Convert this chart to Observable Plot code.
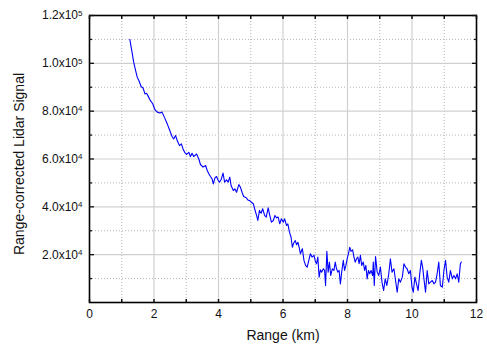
<!DOCTYPE html>
<html>
<head>
<meta charset="utf-8">
<script src="https://cdn.jsdelivr.net/npm/d3@7"></script>
<script src="https://cdn.jsdelivr.net/npm/@observablehq/plot@0.6"></script>
<style>
  html, body { margin: 0; padding: 0; background: #fff; }
  #chart svg { display: block; font-family: "Liberation Sans", Arial, sans-serif; }
</style>
</head>
<body>
<div id="chart"></div>
<script>
// Range (km)
const rangeKm = [
  1.25,1.32,1.37,1.43,1.48,1.53,1.60,1.66,1.72,1.77,1.81,1.89,1.96,2.03,2.10,2.18,2.25,2.33,2.41,2.49,
  2.56,2.61,2.67,2.72,2.79,2.85,2.90,2.95,3.01,3.08,3.13,3.18,3.23,3.32,3.39,3.44,3.52,3.60,3.65,3.70,
  3.75,3.80,3.84,3.89,3.94,3.98,4.03,4.08,4.14,4.19,4.25,4.30,4.35,4.39,4.46,4.51,4.56,4.63,4.68,4.73,
  4.78,4.86,4.91,4.97,5.02,5.08,5.12,5.18,5.22,5.27,5.32,5.37,5.43,5.48,5.54,5.59,5.64,5.70,5.75,5.80,
  5.85,5.90,5.95,6.01,6.05,6.11,6.15,6.20,6.25,6.29,6.33,6.38,6.42,6.46,6.50,6.54,6.60,6.65,6.70,6.75,
  6.80,6.85,6.90,6.96,7.01,7.04,7.08,7.12,7.16,7.20,7.25,7.29,7.32,7.36,7.40,7.44,7.48,7.53,7.58,7.62,
  7.66,7.70,7.74,7.78,7.82,7.87,7.91,7.95,7.99,8.03,8.07,8.11,8.16,8.20,8.24,8.28,8.32,8.36,8.40,8.44,
  8.49,8.53,8.57,8.61,8.65,8.69,8.73,8.78,8.80,8.83,8.87,8.92,8.97,9.02,9.07,9.12,9.17,9.22,9.28,9.33,
  9.38,9.44,9.49,9.54,9.59,9.64,9.70,9.75,9.80,9.85,9.90,9.95,10.00,10.04,10.09,10.14,10.19,10.24,10.29,10.33,
  10.37,10.42,10.47,10.52,10.57,10.63,10.68,10.73,10.78,10.83,10.88,10.94,10.99,11.04,11.09,11.14,11.19,11.25,11.30,11.35,
  11.40,11.45,11.50,11.53
];
// Range-corrected lidar signal
const signal = [
  110000,104600,100500,97000,94200,92800,90300,89700,87200,87500,86500,84400,83100,80600,79600,79200,79600,77200,74700,71900,
  69400,68400,69800,67700,65600,66300,64200,62800,61900,62800,61000,62400,61000,62100,60000,57700,56600,57300,55200,53800,
  52700,51700,49600,52100,52700,51300,50300,51300,54100,50300,51300,50300,52400,48900,46800,47500,46100,49300,48200,46100,
  44300,43800,42900,42600,41900,41300,39200,36400,34300,38500,37300,39200,36400,35700,39600,36400,33600,34300,36400,35400,
  35700,32900,35000,33600,35000,32200,32900,29400,27300,23100,24800,25900,24200,25200,23100,20400,22500,17600,15500,14800,
  17600,20400,19000,19700,16900,16200,19000,10600,13700,12700,14100,13400,7100,21400,12700,16900,11300,14100,13400,16900,
  14100,12700,13400,7800,12700,17600,13400,15500,18300,20400,23100,21400,22000,19000,16900,18300,19000,16200,19700,15500,
  16900,13400,15500,9900,13400,12000,13400,11300,16900,7100,19200,12700,11300,14800,8500,5000,9900,7100,12000,18300,
  12700,14100,9200,4300,9900,8500,10600,16200,14800,14100,12000,13400,6400,4300,10600,7800,5000,12000,17600,14800,
  9900,4300,13400,7800,8500,9200,7800,8500,12000,16900,7100,6400,13400,17600,10600,8500,13400,9900,11300,9900,
  12000,8500,16200,16900
];
const xMajor = [0, 2, 4, 6, 8, 10, 12];
const xMinor = [1, 3, 5, 7, 9, 11];
const yMajor = [20000, 40000, 60000, 80000, 100000, 120000];
const yMinor = [10000, 30000, 50000, 70000, 90000, 110000];
const xTitle = "Range (km)";
const yTitle = "Range-corrected Lidar Signal";

const data = rangeKm.map((r, i) => ({range: r, value: signal[i]}));

function sciLabel(v) {
  const e = Math.floor(Math.log10(v));
  const c = v / Math.pow(10, e);
  return c.toFixed(1) + "x10^" + e;
}

const blank = () => "";
const chart = Plot.plot({
  width: 487,
  height: 347,
  marginLeft: 89,
  marginRight: 11,
  marginTop: 15,
  marginBottom: 45,
  style: {fontFamily: "Liberation Sans, Arial, sans-serif", fontSize: "12px", color: "#111"},
  x: {domain: [0, 12], label: null},
  y: {domain: [0, 120000], label: null},
  marks: [
    Plot.gridX(xMinor, {stroke: "#b5b5b5", strokeOpacity: 1, strokeDasharray: "1,2"}),
    Plot.gridY(yMinor, {stroke: "#b5b5b5", strokeOpacity: 1, strokeDasharray: "1,2"}),
    Plot.gridX(xMajor.slice(1, -1), {stroke: "#d0d0d0", strokeOpacity: 1, strokeWidth: 1.2}),
    Plot.gridY(yMajor.slice(0, -1), {stroke: "#d0d0d0", strokeOpacity: 1, strokeWidth: 1.2}),
    Plot.line(data, {x: "range", y: "value", stroke: "#0000ff", strokeWidth: 1.1}),
    Plot.frame({stroke: "#000", strokeWidth: 1.6}),
    // inward ticks
    Plot.axisX(xMajor.concat(xMinor), {anchor: "bottom", tickSize: -3, tickFormat: blank, strokeWidth: 1.5, label: null}),
    Plot.axisX(xMajor.concat(xMinor), {anchor: "top", tickSize: -3, tickFormat: blank, strokeWidth: 1.5, label: null}),
    Plot.axisY(yMajor, {anchor: "left", tickSize: -5, tickFormat: blank, strokeWidth: 1.3, label: null}),
    Plot.axisY(yMinor, {anchor: "left", tickSize: -3, tickFormat: blank, strokeWidth: 1.3, label: null}),
    Plot.axisY(yMajor, {anchor: "right", tickSize: -5, tickFormat: blank, strokeWidth: 1.3, label: null}),
    Plot.axisY(yMinor, {anchor: "right", tickSize: -3, tickFormat: blank, strokeWidth: 1.3, label: null}),
    // labels
    Plot.axisX(xMajor, {anchor: "bottom", tickSize: 0, tickPadding: 7, fontSize: 12, label: null}),
    Plot.axisY(yMajor, {anchor: "left", tickSize: 0, tickPadding: 7, fontSize: 12, tickFormat: sciLabel, label: null}),
    Plot.text([xTitle], {frameAnchor: "bottom", dy: 33, fontSize: 14, lineAnchor: "middle", textAnchor: "middle", fill: "#111"}),
    Plot.text([yTitle], {frameAnchor: "left", dx: -70, dy: 5, rotate: -90, fontSize: 14, textAnchor: "middle", lineAnchor: "middle", fill: "#111"})
  ]
});

// superscript exponents
chart.querySelectorAll("text").forEach(t => {
  const s = t.textContent;
  const m = /^(.*x10)\^(-?\d+)$/.exec(s);
  if (m) {
    t.textContent = m[1];
    const sup = document.createElementNS("http://www.w3.org/2000/svg", "tspan");
    sup.setAttribute("dy", "-0.45em");
    sup.setAttribute("font-size", "8");
    sup.textContent = m[2];
    t.appendChild(sup);
  }
});

document.getElementById("chart").appendChild(chart);
</script>
</body>
</html>
